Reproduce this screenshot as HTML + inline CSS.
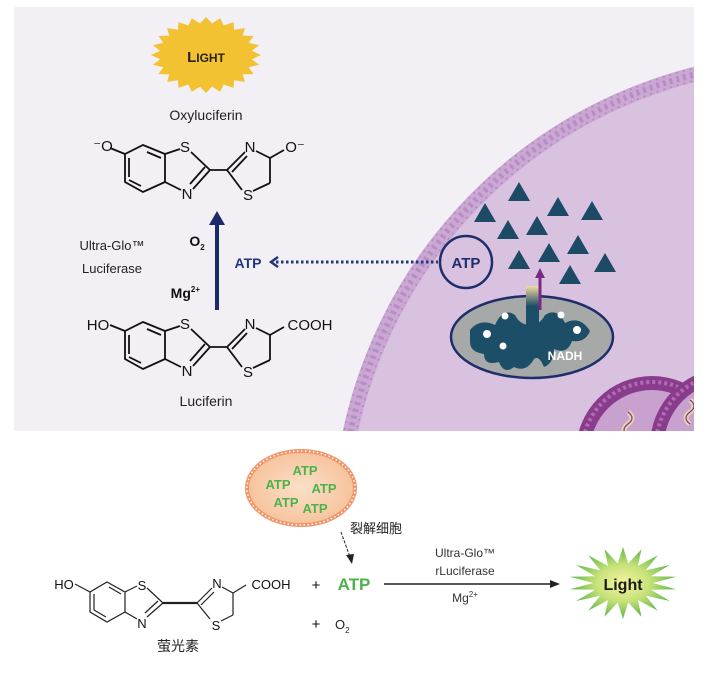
<!DOCTYPE html>
<html><head><meta charset="utf-8"><style>
html,body{margin:0;padding:0;background:#fff;width:709px;height:674px;overflow:hidden;}
svg{display:block;}
text{font-family:"Liberation Sans","Noto Sans CJK SC",sans-serif;}
</style></head><body>
<svg id="s" width="709" height="674" viewBox="0 0 709 674" xmlns="http://www.w3.org/2000/svg">
<defs>
<clipPath id="pc"><rect x="14" y="7" width="680" height="424"/></clipPath>
<radialGradient id="gg" cx="50%" cy="50%" r="50%">
<stop offset="0" stop-color="#f4f3a0"/><stop offset="0.5" stop-color="#c8e27a"/><stop offset="1" stop-color="#5cb648"/>
</radialGradient>
<radialGradient id="og" cx="50%" cy="50%" r="50%">
<stop offset="0" stop-color="#fbe0c8"/><stop offset="1" stop-color="#f6c39d"/>
</radialGradient>
<linearGradient id="ch" x1="0" y1="0" x2="0" y2="1">
<stop offset="0" stop-color="#f3d9a0"/><stop offset="0.4" stop-color="#1d4e68"/><stop offset="1" stop-color="#1d4e68"/>
</linearGradient>
</defs>
<rect x="14" y="7" width="680" height="424" fill="#f2eff5"/>
<g clip-path="url(#pc)">
 <circle cx="810" cy="530" r="470" fill="#d9c2df" stroke="#cba7d3" stroke-width="15"/>
 <circle cx="810" cy="530" r="470" fill="none" stroke="#b68ec3" stroke-width="6" stroke-dasharray="3 4"/>
 <circle cx="810" cy="530" r="476" fill="none" stroke="#b68ec3" stroke-width="2" stroke-dasharray="2 5"/>
 <circle cx="810" cy="530" r="464" fill="none" stroke="#b68ec3" stroke-width="2" stroke-dasharray="2 5"/>
 <circle cx="652" cy="452" r="76" fill="#8a3c8c"/>
 <circle cx="652" cy="452" r="70" fill="none" stroke="#b06cb3" stroke-width="4" stroke-dasharray="3 3"/>
 <circle cx="652" cy="452" r="62" fill="#c9a1cf"/>
 <circle cx="728" cy="446" r="78" fill="#8a3c8c"/>
 <circle cx="728" cy="446" r="72" fill="none" stroke="#b06cb3" stroke-width="4" stroke-dasharray="3 3"/>
 <circle cx="728" cy="446" r="64" fill="#c9a1cf"/>
 <path d="M628 412 q8 6 0 12 q-8 6 0 12" stroke="#e8d2b0" stroke-width="5" fill="none"/>
 <path d="M628 412 q8 6 0 12 q-8 6 0 12" stroke="#7a3a7c" stroke-width="1.2" fill="none"/>
 <path d="M690 400 q8 6 0 12 q-8 6 0 12" stroke="#e8d2b0" stroke-width="5" fill="none"/>
 <path d="M690 400 q8 6 0 12 q-8 6 0 12" stroke="#7a3a7c" stroke-width="1.2" fill="none"/>
</g>
<polygon id="sun" fill="#f2c233"/>
<text x="206" y="62" font-size="15" font-weight="bold" fill="#2a2418" text-anchor="middle">L<tspan font-size="12">IGHT</tspan></text>
<text x="206" y="120" font-size="14" fill="#222" text-anchor="middle">Oxyluciferin</text>
<g stroke="#111" stroke-width="1.8" fill="none">
 <polygon points="143,145 165,154 165,182 143,192 125,182 125,154"/>
 <line x1="147" y1="152" x2="161" y2="158"/><line x1="129" y1="180" x2="141" y2="186"/><line x1="129" y1="158" x2="129" y2="177"/>
 <line x1="125" y1="154" x2="110" y2="148"/>
 <line x1="165" y1="154" x2="180" y2="149"/><line x1="191" y1="152" x2="210" y2="170"/>
 <line x1="165" y1="182" x2="181" y2="190"/><line x1="193" y1="189" x2="210" y2="170"/><line x1="190" y1="184" x2="205" y2="167"/>
 <line x1="210" y1="170" x2="227" y2="170"/>
 <line x1="227" y1="170" x2="245" y2="152"/><line x1="232" y1="172" x2="247" y2="156"/>
 <line x1="227" y1="170" x2="242" y2="190"/>
 <line x1="256" y1="151" x2="270" y2="158"/><line x1="270" y1="158" x2="270" y2="183"/><line x1="270" y1="183" x2="253" y2="191"/>
 <line x1="270" y1="158" x2="284" y2="150"/>
</g>
<g font-size="15" fill="#111" text-anchor="middle">
 <text x="103" y="151">⁻O</text><text x="185" y="152">S</text><text x="187" y="199">N</text>
 <text x="250" y="152">N</text><text x="248" y="200">S</text><text x="295" y="152">O⁻</text>
</g>
<g transform="translate(0,177)">
<g stroke="#111" stroke-width="1.8" fill="none">
 <polygon points="143,145 165,154 165,182 143,192 125,182 125,154"/>
 <line x1="147" y1="152" x2="161" y2="158"/><line x1="129" y1="180" x2="141" y2="186"/><line x1="129" y1="158" x2="129" y2="177"/>
 <line x1="125" y1="154" x2="110" y2="148"/>
 <line x1="165" y1="154" x2="180" y2="149"/><line x1="191" y1="152" x2="210" y2="170"/>
 <line x1="165" y1="182" x2="181" y2="190"/><line x1="193" y1="189" x2="210" y2="170"/><line x1="190" y1="184" x2="205" y2="167"/>
 <line x1="210" y1="170" x2="227" y2="170"/>
 <line x1="227" y1="170" x2="245" y2="152"/><line x1="232" y1="172" x2="247" y2="156"/>
 <line x1="227" y1="170" x2="242" y2="190"/>
 <line x1="256" y1="151" x2="270" y2="158"/><line x1="270" y1="158" x2="270" y2="183"/><line x1="270" y1="183" x2="253" y2="191"/>
 <line x1="270" y1="158" x2="284" y2="150"/>
</g>
<g font-size="15" fill="#111" text-anchor="middle">
 <text x="98" y="153">HO</text><text x="185" y="152">S</text><text x="187" y="199">N</text>
 <text x="250" y="152">N</text><text x="248" y="200">S</text><text x="310" y="153">COOH</text>
</g>
</g>
<text x="206" y="406" font-size="14" fill="#222" text-anchor="middle">Luciferin</text>
<line x1="217" y1="310" x2="217" y2="222" stroke="#1b2a6b" stroke-width="4"/>
<polygon points="217,211 209,225 225,225" fill="#1b2a6b"/>
<text x="197" y="246" font-size="14" font-weight="bold" fill="#111" text-anchor="middle">O<tspan font-size="8" dy="4">2</tspan></text>
<text x="200" y="298" font-size="14" font-weight="bold" fill="#111" text-anchor="end">Mg<tspan font-size="8" dy="-6">2+</tspan></text>
<text x="112" y="250" font-size="13" fill="#222" text-anchor="middle">Ultra-Glo™</text>
<text x="112" y="273" font-size="13" fill="#222" text-anchor="middle">Luciferase</text>
<text x="248" y="268" font-size="14" font-weight="bold" fill="#24367a" text-anchor="middle">ATP</text>
<path d="M278 257 l-7 5 l7 5" stroke="#24367a" stroke-width="2.5" fill="none"/>
<line x1="276" y1="262" x2="438" y2="262" stroke="#24367a" stroke-width="3" stroke-dasharray="2.5 2.5"/>
<circle cx="466" cy="262" r="26" fill="none" stroke="#1e2d6b" stroke-width="2.5"/>
<text x="466" y="268" font-size="15" font-weight="bold" fill="#1e2d6b" text-anchor="middle">ATP</text>
<g id="tri" fill="#1d4a64"></g>
<ellipse cx="532" cy="337" rx="81" ry="41" fill="#a7a9a8" stroke="#1e2d6b" stroke-width="2.5"/>
<g fill="#1d4e68">
 <rect x="526" y="286" width="13" height="50" fill="url(#ch)"/>
 <path d="M470 330 q10 -12 25 -5 q8 -18 20 -10 q5 10 15 10 q10 0 15 -10 q12 -8 20 8 q15 -8 25 8 q-5 12 -18 10 q-5 14 -18 8 q0 14 -10 18 q-5 -12 -10 -8 q-8 14 -20 8 q-10 8 -15 -5 q-15 4 -15 -8 q-14 -2 -14 -12z"/>
 <circle cx="488" cy="333" r="9"/><circle cx="575" cy="330" r="9"/>
 <circle cx="503" cy="345" r="8"/>
</g>
<g fill="#fff">
 <circle cx="487" cy="334" r="4"/><circle cx="505" cy="316" r="3.5"/><circle cx="561" cy="315" r="3.5"/>
 <circle cx="577" cy="330" r="4"/><circle cx="503" cy="346" r="3.5"/>
</g>
<text x="565" y="360" font-size="12" font-weight="bold" fill="#fff" text-anchor="middle">NADH</text>
<line x1="540" y1="310" x2="540" y2="276" stroke="#7a2a80" stroke-width="3"/>
<polygon points="540,268 535,278 545,278" fill="#7a2a80"/>

<ellipse cx="301" cy="488" rx="54" ry="37" fill="url(#og)" stroke="#f0956a" stroke-width="4"/>
<ellipse cx="301" cy="488" rx="54" ry="37" fill="none" stroke="#fff" stroke-width="1.5" stroke-dasharray="1.5 2.5"/>
<g font-size="13" font-weight="bold" fill="#4cb34c" text-anchor="middle">
 <text x="305" y="475">ATP</text><text x="278" y="489">ATP</text><text x="324" y="493">ATP</text>
 <text x="286" y="507">ATP</text><text x="315" y="513">ATP</text>
</g>
<text x="350" y="533" font-size="13" fill="#222">裂解细胞</text>
<line x1="341" y1="532" x2="350" y2="557" stroke="#222" stroke-width="1" stroke-dasharray="3 1.5"/>
<polygon points="352,564 346,555 354,554" fill="#222"/>
<g stroke="#222" stroke-width="1.2" fill="none">
 <polygon points="107,582 125,592 125,612 107,622 90,612 90,592"/>
 <line x1="109" y1="587" x2="121" y2="594"/><line x1="94" y1="594" x2="94" y2="610"/><line x1="94" y1="610" x2="106" y2="617"/>
 <line x1="90" y1="592" x2="75" y2="584"/>
 <line x1="125" y1="592" x2="137" y2="586"/><line x1="147" y1="588" x2="163" y2="603"/>
 <line x1="125" y1="612" x2="137" y2="619"/><line x1="147" y1="617" x2="163" y2="603"/><line x1="145" y1="613" x2="158" y2="601"/>
 <line x1="163" y1="603" x2="197" y2="603" stroke-width="2.2"/>
 <line x1="197" y1="603" x2="212" y2="588"/><line x1="201" y1="605" x2="214" y2="592"/>
 <line x1="197" y1="603" x2="210" y2="619"/>
 <line x1="222" y1="587" x2="233" y2="593"/><line x1="233" y1="593" x2="233" y2="615"/><line x1="233" y1="615" x2="221" y2="621"/>
 <line x1="233" y1="593" x2="246" y2="585"/>
</g>
<g font-size="13" fill="#111" text-anchor="middle">
 <text x="64" y="589">HO</text><text x="142" y="590">S</text><text x="142" y="628">N</text>
 <text x="217" y="588">N</text><text x="216" y="630">S</text><text x="271" y="589">COOH</text>
 <text x="316" y="590" font-size="15">+</text><text x="316" y="629" font-size="15">+</text>
</g>
<text x="335" y="629" font-size="13" fill="#222">O<tspan font-size="8" dy="4">2</tspan></text>
<text x="178" y="651" font-size="14" fill="#222" text-anchor="middle">萤光素</text>
<text x="354" y="590" font-size="17" font-weight="bold" fill="#4cb34c" text-anchor="middle">ATP</text>
<line x1="384" y1="584" x2="552" y2="584" stroke="#222" stroke-width="1.5"/>
<polygon points="560,584 550,580 550,588" fill="#222"/>
<g font-size="12" fill="#333" text-anchor="middle">
 <text x="465" y="557">Ultra-Glo™</text><text x="465" y="575">rLuciferase</text>
 <text x="465" y="602">Mg<tspan font-size="8" dy="-5">2+</tspan></text>
</g>
<polygon id="gstar" fill="url(#gg)"/>
<text x="623" y="590" font-size="16" font-weight="bold" fill="#1a1a1a" text-anchor="middle">Light</text>
</svg>
<script>
function star(id,cx,cy,rx,ry,n,k){var p=[];for(var i=0;i<2*n;i++){var a=Math.PI*i/n-Math.PI/2;var f=i%2?k:1;p.push((cx+rx*f*Math.cos(a)).toFixed(1)+","+(cy+ry*f*Math.sin(a)).toFixed(1));}document.getElementById(id).setAttribute("points",p.join(" "));}
star("sun",206,55,55,38,24,0.84);
star("gstar",623,583,54,36,18,0.55);
var t=[[519,192],[485,213],[558,207],[592,211],[508,230],[537,226],[578,245],[549,253],[519,260],[605,263],[570,275]];
var g=document.getElementById("tri");t.forEach(function(c){var e=document.createElementNS("http://www.w3.org/2000/svg","polygon");e.setAttribute("points",(c[0])+","+(c[1]-10)+" "+(c[0]-11)+","+(c[1]+9)+" "+(c[0]+11)+","+(c[1]+9));g.appendChild(e);});
</script>
</body></html>
